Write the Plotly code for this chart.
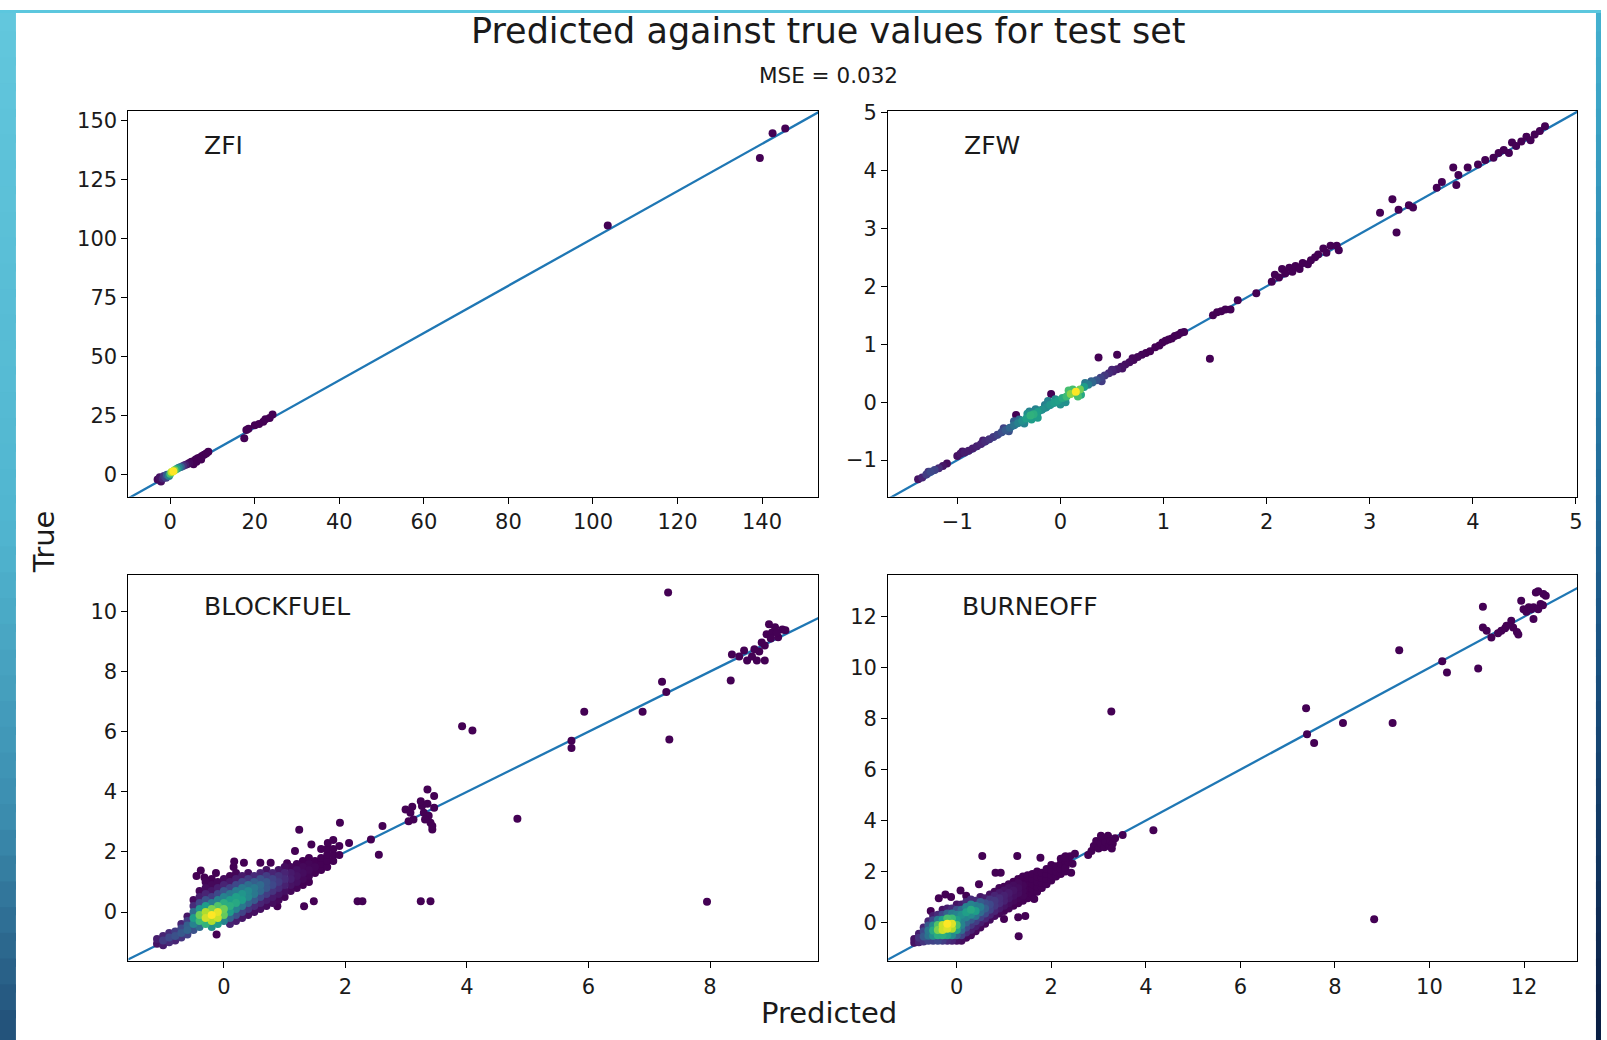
import plotly.graph_objects as go

# ------------------------------------------------------------------ data
# (predicted, true, relative point density 0..1)
ZFI_POINTS = [
    (-3.0, -2.0, 0.02), (-2.5, -1.0, 0.05), (-2.2, -2.8, 0.03), (-1.8, -1.5, 0.1),
    (-1.5, -0.5, 0.15), (-1.0, -1.2, 0.2), (-0.8, 0.0, 0.3), (-0.3, -0.5, 0.45),
    (0.0, 0.5, 0.7), (0.3, 1.2, 0.9), (0.7, 1.5, 1.0), (1.0, 2.0, 0.8), (1.5, 2.5, 0.6),
    (2.0, 3.0, 0.45), (2.5, 3.3, 0.3), (3.0, 3.8, 0.15), (3.5, 4.2, 0.08), (4.0, 4.5, 0.03),
    (4.5, 5.0, 0.02), (5.0, 5.5, 0.0), (5.5, 5.8, 0.0), (6.0, 6.5, 0.0), (6.5, 7.0, 0.0),
    (7.0, 7.3, 0.0), (7.5, 8.0, 0.0), (8.0, 8.5, 0.0), (8.5, 9.0, 0.0), (9.0, 9.8, 0.0),
    (6.2, 5.5, 0.0), (7.3, 6.5, 0.0), (5.5, 4.5, 0.0),
    (17.5, 15.5, 0.0), (18.0, 19.0, 0.0), (18.5, 19.5, 0.0), (20.0, 21.0, 0.0),
    (21.0, 21.5, 0.0), (22.0, 22.5, 0.0), (22.5, 23.5, 0.0), (23.5, 24.0, 0.0), (24.2, 25.5, 0.0),
    (103.5, 105.5, 0.0), (139.5, 134.0, 0.0), (142.5, 144.5, 0.0), (145.5, 146.5, 0.0),
]

ZFW_POINTS = [
    (-1.38, -1.33, 0.05), (-1.34, -1.30, 0.1), (-1.30, -1.25, 0.18), (-1.26, -1.20, 0.22),
    (-1.22, -1.17, 0.2), (-1.18, -1.14, 0.12), (-1.14, -1.10, 0.06), (-1.10, -1.06, 0.03),
    (-1.00, -0.93, 0.04), (-0.97, -0.89, 0.06), (-0.93, -0.87, 0.08), (-0.89, -0.84, 0.08),
    (-0.85, -0.80, 0.08), (-0.81, -0.76, 0.09), (-0.77, -0.72, 0.1), (-0.73, -0.68, 0.12),
    (-0.69, -0.64, 0.14), (-0.65, -0.60, 0.17), (-0.61, -0.56, 0.2), (-0.57, -0.52, 0.24),
    (-0.53, -0.48, 0.28), (-0.49, -0.44, 0.33), (-0.45, -0.40, 0.38), (-0.41, -0.36, 0.44),
    (-0.37, -0.32, 0.5), (-0.33, -0.28, 0.56), (-0.29, -0.23, 0.64), (-0.26, -0.21, 0.62),
    (-0.22, -0.17, 0.55), (-0.18, -0.13, 0.5), (-0.14, -0.09, 0.48), (-0.10, -0.05, 0.52),
    (-0.06, -0.01, 0.55), (-0.02, 0.03, 0.56), (0.02, 0.07, 0.6), (0.06, 0.10, 0.68),
    (0.10, 0.14, 0.82), (0.15, 0.18, 1.0), (0.19, 0.22, 0.78), (0.23, 0.26, 0.55),
    (0.27, 0.30, 0.42), (0.31, 0.34, 0.33), (0.35, 0.38, 0.26), (0.39, 0.42, 0.2),
    (0.43, 0.46, 0.16), (0.47, 0.50, 0.12), (0.51, 0.53, 0.09), (0.55, 0.57, 0.07),
    (0.59, 0.61, 0.05), (0.63, 0.65, 0.04), (0.67, 0.69, 0.03), (0.71, 0.73, 0.02),
    (0.75, 0.78, 0.02), (0.79, 0.82, 0.01), (0.83, 0.85, 0.0), (0.87, 0.88, 0.0),
    (-1.28, -1.20, 0.15), (-0.95, -0.85, 0.05), (-0.75, -0.66, 0.08), (-0.55, -0.45, 0.2),
    (-0.50, -0.50, 0.25), (-0.40, -0.30, 0.35), (-0.35, -0.37, 0.45), (-0.30, -0.16, 0.45),
    (-0.28, -0.30, 0.55), (-0.24, -0.12, 0.45), (-0.15, -0.05, 0.42), (-0.05, 0.05, 0.48),
    (0.05, 0.00, 0.5), (0.12, 0.22, 0.7), (0.20, 0.13, 0.6), (0.30, 0.36, 0.3),
    (0.40, 0.36, 0.18), (0.50, 0.56, 0.1), (0.60, 0.58, 0.05), (0.70, 0.76, 0.02),
    (-0.32, -0.20, 0.5), (-0.22, -0.27, 0.55), (-0.12, 0.02, 0.45), (0.00, -0.04, 0.5),
    (0.08, 0.20, 0.7), (0.17, 0.10, 0.7), (0.24, 0.33, 0.4), (-0.45, -0.33, 0.3),
    (-0.43, -0.22, 0.0), (-0.09, 0.14, 0.0), (0.37, 0.77, 0.0), (0.55, 0.82, 0.0), (1.45, 0.75, 0.0),
    (0.92, 0.95, 0.0), (0.96, 0.98, 0.0), (0.99, 1.03, 0.0), (1.02, 1.06, 0.0), (1.05, 1.08, 0.0),
    (1.08, 1.10, 0.0), (1.11, 1.14, 0.0), (1.14, 1.16, 0.0), (1.17, 1.20, 0.0), (1.20, 1.21, 0.0),
    (1.48, 1.50, 0.0), (1.52, 1.55, 0.0), (1.56, 1.57, 0.0), (1.60, 1.60, 0.0), (1.65, 1.60, 0.0),
    (1.72, 1.76, 0.0), (1.90, 1.88, 0.0),
    (2.05, 2.08, 0.0), (2.08, 2.20, 0.0), (2.12, 2.15, 0.0), (2.15, 2.30, 0.0), (2.18, 2.22, 0.0),
    (2.22, 2.32, 0.0), (2.25, 2.25, 0.0), (2.28, 2.35, 0.0), (2.32, 2.30, 0.0), (2.35, 2.40, 0.0),
    (2.40, 2.38, 0.0), (2.43, 2.45, 0.0), (2.47, 2.50, 0.0), (2.50, 2.55, 0.0), (2.55, 2.65, 0.0),
    (2.58, 2.58, 0.0), (2.62, 2.70, 0.0), (2.68, 2.70, 0.0), (2.70, 2.62, 0.0),
    (3.10, 3.27, 0.0), (3.22, 3.50, 0.0), (3.26, 2.93, 0.0), (3.28, 3.32, 0.0), (3.38, 3.40, 0.0),
    (3.42, 3.36, 0.0), (3.65, 3.70, 0.0), (3.70, 3.80, 0.0), (3.81, 4.05, 0.0), (3.84, 3.75, 0.0),
    (3.86, 3.92, 0.0), (3.95, 4.05, 0.0), (4.05, 4.10, 0.0), (4.12, 4.18, 0.0), (4.20, 4.22, 0.0),
    (4.25, 4.30, 0.0), (4.30, 4.35, 0.0), (4.35, 4.30, 0.0), (4.38, 4.48, 0.0), (4.42, 4.42, 0.0),
    (4.47, 4.50, 0.0), (4.52, 4.58, 0.0), (4.56, 4.52, 0.0), (4.60, 4.62, 0.0), (4.65, 4.68, 0.0),
    (4.70, 4.76, 0.0),
]

# dense core: (predicted, [true values], [densities])
BLOCKFUEL_COLUMNS = [
    (-1.1, [-1.05, -0.9], [0.05, 0.08]),
    (-1.0, [-1.1, -0.95, -0.8], [0.08, 0.18, 0.1]),
    (-0.9, [-1.0, -0.85, -0.7], [0.12, 0.22, 0.12]),
    (-0.8, [-0.95, -0.8, -0.65], [0.1, 0.25, 0.18]),
    (-0.7, [-0.85, -0.7, -0.55, -0.4], [0.15, 0.28, 0.22, 0.1]),
    (-0.6, [-0.75, -0.6, -0.45, -0.3, -0.15], [0.2, 0.32, 0.3, 0.18, 0.06]),
    (-0.5, [-0.6, -0.4, -0.2, 0.0, 0.2, 0.4], [0.25, 0.45, 0.55, 0.35, 0.12, 0.03]),
    (-0.4, [-0.5, -0.3, -0.1, 0.1, 0.3, 0.5, 0.7], [0.35, 0.68, 0.78, 0.52, 0.22, 0.08, 0.02]),
    (-0.3, [-0.4, -0.2, 0.0, 0.2, 0.4, 0.6, 0.8, 1.0], [0.65, 0.93, 0.88, 0.55, 0.25, 0.1, 0.03, 0.01]),
    (-0.2, [-0.5, -0.3, -0.1, 0.1, 0.3, 0.5, 0.7, 0.9, 1.1], [0.5, 0.88, 1.0, 0.8, 0.42, 0.18, 0.06, 0.02, 0.0]),
    (-0.1, [-0.4, -0.2, 0.0, 0.2, 0.4, 0.6, 0.8, 1.0], [0.55, 0.92, 0.96, 0.72, 0.45, 0.22, 0.08, 0.02]),
    (0.0, [-0.3, -0.1, 0.1, 0.3, 0.5, 0.7, 0.9, 1.1], [0.45, 0.76, 0.78, 0.62, 0.45, 0.26, 0.1, 0.03]),
    (0.1, [-0.4, -0.2, 0.0, 0.2, 0.4, 0.6, 0.8, 1.0, 1.2], [0.1, 0.32, 0.55, 0.62, 0.55, 0.4, 0.2, 0.07, 0.01]),
    (0.2, [-0.3, -0.1, 0.1, 0.3, 0.5, 0.7, 0.9, 1.1, 1.3], [0.08, 0.25, 0.45, 0.6, 0.56, 0.42, 0.22, 0.08, 0.01]),
    (0.3, [-0.2, 0.0, 0.2, 0.4, 0.6, 0.8, 1.0, 1.2], [0.06, 0.2, 0.4, 0.55, 0.52, 0.4, 0.22, 0.07]),
    (0.4, [-0.1, 0.1, 0.3, 0.5, 0.7, 0.9, 1.1, 1.3], [0.04, 0.15, 0.32, 0.47, 0.47, 0.36, 0.18, 0.04]),
    (0.5, [0.0, 0.2, 0.4, 0.6, 0.8, 1.0, 1.2], [0.04, 0.12, 0.28, 0.4, 0.4, 0.3, 0.12]),
    (0.6, [0.1, 0.3, 0.5, 0.7, 0.9, 1.1, 1.3], [0.04, 0.1, 0.22, 0.33, 0.34, 0.25, 0.1]),
    (0.7, [0.2, 0.4, 0.6, 0.8, 1.0, 1.2, 1.4], [0.03, 0.08, 0.18, 0.27, 0.27, 0.18, 0.05]),
    (0.8, [0.3, 0.5, 0.7, 0.9, 1.1, 1.3], [0.03, 0.07, 0.15, 0.22, 0.2, 0.1]),
    (0.9, [0.4, 0.6, 0.8, 1.0, 1.2, 1.4], [0.02, 0.06, 0.12, 0.17, 0.14, 0.06]),
    (1.0, [0.5, 0.7, 0.9, 1.1, 1.3, 1.5], [0.01, 0.04, 0.09, 0.12, 0.1, 0.03]),
    (1.1, [0.7, 0.9, 1.1, 1.3, 1.5], [0.02, 0.05, 0.08, 0.07, 0.02]),
    (1.2, [0.8, 1.0, 1.2, 1.4, 1.6], [0.01, 0.04, 0.05, 0.04, 0.01]),
    (1.3, [0.9, 1.1, 1.3, 1.5, 1.7], [0.0, 0.02, 0.03, 0.02, 0.0]),
    (1.4, [1.0, 1.2, 1.4, 1.6, 1.8], [0.0, 0.01, 0.02, 0.01, 0.0]),
    (1.5, [1.3, 1.5, 1.7], [0.0, 0.01, 0.0]),
    (1.6, [1.4, 1.6, 1.8], [0.0, 0.0, 0.0]),
    (1.7, [1.5, 1.7, 1.9, 2.1], [0.0, 0.0, 0.0, 0.0]),
    (1.8, [1.7, 1.9, 2.1], [0.0, 0.0, 0.0]),
    (1.9, [1.9, 2.2], [0.0, 0.0]),
]

BLOCKFUEL_OUTLIERS = [
    (-0.45, 1.2), (-0.38, 1.38), (-0.32, 1.15), (-0.13, 1.3), (0.16, 1.5), (0.17, 1.68),
    (0.33, 1.64), (0.6, 1.64), (0.77, 1.64), (1.04, 1.62), (-0.12, -0.75), (0.88, 0.19),
    (1.32, 0.19), (1.48, 0.36), (2.2, 0.36), (2.28, 0.36), (3.24, 0.36), (3.4, 0.36),
    (1.24, 2.74), (1.44, 2.25), (1.17, 2.03), (1.91, 2.97), (1.71, 2.3), (2.06, 2.3),
    (2.42, 2.41), (2.61, 2.86), (2.55, 1.91), (1.6, 2.1), (1.8, 2.4),
    (2.99, 3.41), (3.07, 3.3), (3.12, 3.08), (3.04, 3.02), (3.26, 3.53), (3.29, 3.3),
    (3.35, 4.08), (3.46, 3.86), (3.37, 3.2), (3.4, 2.97), (3.43, 2.75), (3.31, 3.08),
    (3.24, 3.69), (3.46, 3.47), (3.43, 2.86), (3.35, 3.6), (3.1, 3.5),
    (3.92, 6.18), (4.09, 6.04), (4.83, 3.1), (5.72, 5.7), (5.72, 5.46), (5.93, 6.66),
    (6.89, 6.66), (7.21, 7.66), (7.28, 7.32), (7.33, 5.74), (7.31, 10.63), (7.95, 0.34),
    (8.34, 7.7), (8.36, 8.57), (8.48, 8.5), (8.56, 8.7), (8.61, 8.37), (8.69, 8.5),
    (8.77, 8.37), (8.81, 8.67), (8.73, 8.74), (8.9, 8.87), (8.93, 9.24), (8.97, 9.57),
    (9.02, 9.3), (9.07, 9.47), (9.12, 9.14), (9.19, 9.4), (9.24, 9.37), (8.9, 8.37),
    (8.85, 8.97), (9.0, 9.1), (9.1, 9.3),
]

BURNEOFF_COLUMNS = [
    (-0.9, [-0.8, -0.65], [0.05, 0.05]),
    (-0.8, [-0.78, -0.6, -0.45], [0.1, 0.15, 0.08]),
    (-0.7, [-0.75, -0.55, -0.35, -0.2], [0.15, 0.28, 0.22, 0.1]),
    (-0.6, [-0.72, -0.52, -0.32, -0.12, 0.05], [0.2, 0.38, 0.4, 0.28, 0.1]),
    (-0.5, [-0.72, -0.52, -0.32, -0.12, 0.08, 0.25], [0.2, 0.5, 0.6, 0.48, 0.22, 0.08]),
    (-0.4, [-0.72, -0.5, -0.3, -0.1, 0.1, 0.3], [0.22, 0.62, 0.8, 0.72, 0.4, 0.12]),
    (-0.3, [-0.72, -0.5, -0.3, -0.1, 0.1, 0.3, 0.5], [0.18, 0.62, 0.92, 0.92, 0.55, 0.22, 0.05]),
    (-0.2, [-0.72, -0.5, -0.25, -0.05, 0.15, 0.35, 0.55], [0.12, 0.58, 0.95, 1.0, 0.7, 0.32, 0.08]),
    (-0.1, [-0.72, -0.5, -0.25, -0.05, 0.15, 0.35, 0.55], [0.1, 0.48, 0.88, 0.95, 0.68, 0.42, 0.12]),
    (0.0, [-0.72, -0.5, -0.3, -0.1, 0.1, 0.3, 0.5, 0.7], [0.05, 0.32, 0.58, 0.7, 0.55, 0.45, 0.25, 0.05]),
    (0.1, [-0.72, -0.5, -0.3, -0.1, 0.1, 0.3, 0.5, 0.7], [0.03, 0.2, 0.35, 0.45, 0.45, 0.5, 0.35, 0.08]),
    (0.2, [-0.6, -0.4, -0.2, 0.0, 0.2, 0.4, 0.6, 0.8], [0.02, 0.12, 0.22, 0.32, 0.45, 0.56, 0.45, 0.12]),
    (0.3, [-0.5, -0.3, -0.1, 0.1, 0.3, 0.5, 0.7, 0.9], [0.02, 0.08, 0.16, 0.28, 0.48, 0.6, 0.45, 0.12]),
    (0.4, [-0.35, -0.15, 0.05, 0.25, 0.45, 0.65, 0.85], [0.02, 0.08, 0.18, 0.38, 0.55, 0.42, 0.12]),
    (0.5, [-0.2, 0.0, 0.2, 0.4, 0.6, 0.8, 1.0], [0.02, 0.08, 0.2, 0.35, 0.42, 0.28, 0.06]),
    (0.6, [-0.05, 0.15, 0.35, 0.55, 0.75, 0.95], [0.02, 0.1, 0.22, 0.3, 0.24, 0.08]),
    (0.7, [0.1, 0.3, 0.5, 0.7, 0.9, 1.1], [0.03, 0.1, 0.2, 0.22, 0.15, 0.04]),
    (0.8, [0.25, 0.45, 0.65, 0.85, 1.05, 1.2], [0.03, 0.1, 0.16, 0.16, 0.1, 0.02]),
    (0.9, [0.35, 0.55, 0.75, 0.95, 1.15, 1.35], [0.02, 0.07, 0.12, 0.12, 0.07, 0.01]),
    (1.0, [0.45, 0.65, 0.85, 1.05, 1.25, 1.4], [0.01, 0.05, 0.09, 0.09, 0.05, 0.01]),
    (1.1, [0.55, 0.75, 0.95, 1.15, 1.35, 1.5], [0.01, 0.03, 0.06, 0.07, 0.04, 0.01]),
    (1.2, [0.65, 0.85, 1.05, 1.25, 1.45, 1.6], [0.0, 0.02, 0.04, 0.05, 0.03, 0.0]),
    (1.3, [0.75, 0.95, 1.15, 1.35, 1.55, 1.7], [0.0, 0.01, 0.03, 0.03, 0.02, 0.0]),
    (1.4, [0.85, 1.05, 1.25, 1.45, 1.65, 1.8], [0.0, 0.01, 0.01, 0.01, 0.0, 0.0]),
    (1.5, [0.95, 1.15, 1.35, 1.55, 1.75, 1.85], [0.0, 0.0, 0.0, 0.0, 0.0, 0.0]),
    (1.6, [1.1, 1.3, 1.5, 1.7, 1.9], [0.0, 0.0, 0.0, 0.0, 0.0]),
    (1.7, [1.2, 1.4, 1.6, 1.8, 2.0], [0.0, 0.0, 0.0, 0.0, 0.0]),
    (1.8, [1.35, 1.55, 1.75, 1.95], [0.0, 0.0, 0.0, 0.0]),
    (1.9, [1.5, 1.7, 1.9, 2.1], [0.0, 0.0, 0.0, 0.0]),
    (2.0, [1.65, 1.85, 2.05, 2.25], [0.0, 0.0, 0.0, 0.0]),
    (2.1, [1.8, 2.0, 2.2], [0.0, 0.0, 0.0]),
    (2.2, [1.9, 2.1, 2.3, 2.5], [0.0, 0.0, 0.0, 0.0]),
    (2.3, [2.0, 2.2, 2.4, 2.6], [0.0, 0.0, 0.0, 0.0]),
]

BURNEOFF_OUTLIERS = [
    (-0.55, 0.45), (-0.38, 0.95), (-0.24, 1.1), (-0.12, 1.0), (0.08, 1.25), (0.2, 1.05),
    (0.47, 1.5), (0.54, 2.61), (0.82, 1.95), (0.93, 1.95), (1.28, 2.61), (1.77, 2.54),
    (1.45, 0.25), (1.31, -0.54), (1.0, 0.13), (1.3, 0.2), (1.64, 0.92),
    (2.3, 2.15), (2.35, 2.4), (2.4, 2.6), (2.45, 2.3), (2.5, 2.7), (2.42, 1.95), (2.28, 2.55),
    (2.78, 2.65), (2.85, 2.8), (2.9, 3.0), (2.95, 3.2), (3.0, 2.9), (3.05, 3.1), (3.1, 3.3),
    (3.12, 2.95), (3.15, 3.15), (3.2, 3.4), (3.22, 3.0), (3.25, 3.2), (3.3, 3.1), (3.28, 2.9),
    (3.35, 3.3), (3.05, 3.4), (3.51, 3.43), (4.16, 3.62),
    (3.27, 8.28), (7.39, 8.41), (7.41, 7.39), (7.56, 7.04), (8.17, 7.83), (9.22, 7.83),
    (9.36, 10.69), (10.27, 10.25), (10.37, 9.81), (11.03, 9.97), (8.83, 0.12),
    (11.13, 12.39), (11.13, 11.58), (11.21, 11.45), (11.31, 11.19), (11.45, 11.35),
    (11.52, 11.45), (11.6, 11.55), (11.63, 11.65), (11.73, 11.84), (11.77, 11.58),
    (11.85, 11.4), (11.88, 11.3), (11.94, 12.63), (11.99, 12.3), (12.05, 12.2), (12.1, 12.37),
    (12.15, 12.3), (12.2, 11.91), (12.2, 12.37), (12.25, 12.95), (12.3, 13.0), (12.35, 12.5),
    (12.41, 12.89), (12.46, 12.83), (12.3, 12.3), (12.4, 12.45),
]

ZFI_XTICKS = [0, 20, 40, 60, 80, 100, 120, 140]
ZFI_YTICKS = [0, 25, 50, 75, 100, 125, 150]
ZFW_XTICKS = [-1, 0, 1, 2, 3, 4, 5]
ZFW_YTICKS = [-1, 0, 1, 2, 3, 4, 5]
BLOCKFUEL_XTICKS = [0, 2, 4, 6, 8]
BLOCKFUEL_YTICKS = [0, 2, 4, 6, 8, 10]
BURNEOFF_XTICKS = [0, 2, 4, 6, 8, 10, 12]
BURNEOFF_YTICKS = [0, 2, 4, 6, 8, 10, 12]

ZFI_RANGE = ([-9.9, 153.3], [-9.2, 154.0])
ZFW_RANGE = ([-1.67, 5.01], [-1.63, 5.03])
BLOCKFUEL_RANGE = ([-1.57, 9.78], [-1.64, 11.22])
BURNEOFF_RANGE = ([-1.45, 13.12], [-1.53, 13.65])

TITLE = "Predicted against true values for test set"
SUBTITLE = "MSE = 0.032"


def expand(columns, outliers):
    pts = []
    for x, ys, ds in columns:
        for y, d in zip(ys, ds):
            pts.append((x, y, d))
    for x, y in outliers:
        pts.append((x, y, 0.0))
    return pts


PANELS = [
    ("ZFI", ZFI_POINTS, ZFI_RANGE, ZFI_XTICKS, ZFI_YTICKS),
    ("ZFW", ZFW_POINTS, ZFW_RANGE, ZFW_XTICKS, ZFW_YTICKS),
    ("BLOCKFUEL", expand(BLOCKFUEL_COLUMNS, BLOCKFUEL_OUTLIERS), BLOCKFUEL_RANGE,
     BLOCKFUEL_XTICKS, BLOCKFUEL_YTICKS),
    ("BURNEOFF", expand(BURNEOFF_COLUMNS, BURNEOFF_OUTLIERS), BURNEOFF_RANGE,
     BURNEOFF_XTICKS, BURNEOFF_YTICKS),
]

# ------------------------------------------------------------------ layout
W, H = 1607, 1040
FONT = "DejaVu Sans"
INK = "#1a1a1a"


# the page is photographed with a small vertical offset/squeeze; place things so that
# they land at the wanted pixel positions
def fx(px):
    return (px + 0.5) / 0.9966 / W


def fy(py):
    return 1 - (py - 10.15) / 0.9888 / H


# panel frames in wanted screen pixels (left, right, top, bottom)
FRAMES = [(128, 818, 110.7, 496), (888, 1577, 110.7, 496),
          (128, 818, 574, 960), (888, 1577, 574, 960)]
LABEL_POS = [(202, 145), (961.5, 145), (202, 606), (959.4, 606)]

fig = go.Figure()
layout = dict(
    width=W, height=H, margin=dict(l=0, r=0, t=0, b=0, pad=0), autosize=False,
    paper_bgcolor="white", plot_bgcolor="white", showlegend=False,
    font=dict(family=FONT, color=INK),
)
annotations = []

for i, (name, pts, (xr, yr), xt, yt) in enumerate(PANELS):
    n = "" if i == 0 else str(i + 1)
    xa, ya = "x" + n, "y" + n
    l, r, t, b = FRAMES[i]
    axis_common = dict(
        showline=True, mirror=True, linecolor="black", linewidth=1.2,
        ticks="outside", ticklen=6, tickwidth=1.2, tickcolor="black",
        showgrid=False, zeroline=False, tickfont=dict(size=21, family=FONT, color=INK),
    )
    layout["xaxis" + n] = dict(axis_common, domain=[fx(l), fx(r)], range=xr,
                               tickmode="array", tickvals=xt, anchor=ya)
    layout["yaxis" + n] = dict(axis_common, domain=[fy(b), fy(t)], range=yr,
                               tickmode="array", tickvals=yt, anchor=xa)

    lo = min(xr[0], yr[0]) - 1
    hi = max(xr[1], yr[1]) + 1
    fig.add_trace(go.Scatter(x=[lo, hi], y=[lo, hi], mode="lines",
                             line=dict(color="#1f77b4", width=2.3),
                             xaxis=xa, yaxis=ya, hoverinfo="skip"))

    pts_sorted = sorted(pts, key=lambda p: p[2])
    fig.add_trace(go.Scatter(
        x=[p[0] for p in pts_sorted], y=[p[1] for p in pts_sorted], mode="markers",
        marker=dict(size=8, color=[p[2] for p in pts_sorted], colorscale="Viridis",
                    cmin=0, cmax=1, line=dict(width=0)),
        xaxis=xa, yaxis=ya))

    lx, ly = LABEL_POS[i]
    annotations.append(dict(text=name, x=fx(lx), y=fy(ly), xref="paper", yref="paper",
                            xanchor="left", yanchor="middle", showarrow=False,
                            font=dict(size=25, family=FONT, color=INK)))

annotations += [
    dict(text=TITLE, x=fx(828), y=fy(30.7), xref="paper", yref="paper",
         xanchor="center", yanchor="middle", showarrow=False,
         font=dict(size=35, family=FONT, color=INK)),
    dict(text=SUBTITLE, x=fx(828), y=fy(76), xref="paper", yref="paper",
         xanchor="center", yanchor="middle", showarrow=False,
         font=dict(size=21.5, family=FONT, color=INK)),
    dict(text="True", x=fx(43), y=fy(541), xref="paper", yref="paper",
         xanchor="center", yanchor="middle", textangle=-90, showarrow=False,
         font=dict(size=29, family=FONT, color=INK)),
    dict(text="Predicted", x=fx(828.5), y=fy(1011.6), xref="paper", yref="paper",
         xanchor="center", yanchor="middle", showarrow=False,
         font=dict(size=29, family=FONT, color=INK)),
]
layout["annotations"] = annotations


# ---- slide background strips (decoration)
def hex_to_rgb(h):
    h = h.lstrip("#")
    return [int(h[k:k + 2], 16) for k in (0, 2, 4)]


def grad(stops, t):
    for (t0, c0), (t1, c1) in zip(stops, stops[1:]):
        if t0 <= t <= t1:
            f = (t - t0) / (t1 - t0) if t1 > t0 else 0
            a, b = hex_to_rgb(c0), hex_to_rgb(c1)
            return "rgb(%d,%d,%d)" % tuple(round(a[k] + (b[k] - a[k]) * f) for k in range(3))
    return stops[-1][1]


LEFT_STOPS = [(0, "#62c7dd"), (0.5, "#51b6d0"), (0.78, "#3c8eb0"), (1.0, "#214f78")]
RIGHT_STOPS = [(0, "#44b2d0"), (0.3, "#2a86b0"), (0.6, "#1a5686"), (1.0, "#0a1c42")]
shapes = []
NSEG = 40
for k in range(NSEG):
    y1 = min(1, 1 - k / NSEG + 0.004)
    y0 = max(0, 1 - (k + 1) / NSEG - 0.004)
    tm = (k + 0.5) / NSEG
    shapes.append(dict(type="rect", xref="paper", yref="paper", x0=0, x1=16 / W,
                       y0=y0, y1=y1, fillcolor=grad(LEFT_STOPS, tm), line=dict(width=0),
                       layer="below"))
    shapes.append(dict(type="rect", xref="paper", yref="paper", x0=fx(1596), x1=1,
                       y0=y0, y1=y1, fillcolor=grad(RIGHT_STOPS, tm), line=dict(width=0),
                       layer="below"))
shapes.append(dict(type="rect", xref="paper", yref="paper", x0=0, x1=1,
                   y0=1 - 3 / H, y1=1, fillcolor="#5cc7de", line=dict(width=0), layer="below"))
layout["shapes"] = shapes

fig.update_layout(**layout)
fig.write_html("out.html")
